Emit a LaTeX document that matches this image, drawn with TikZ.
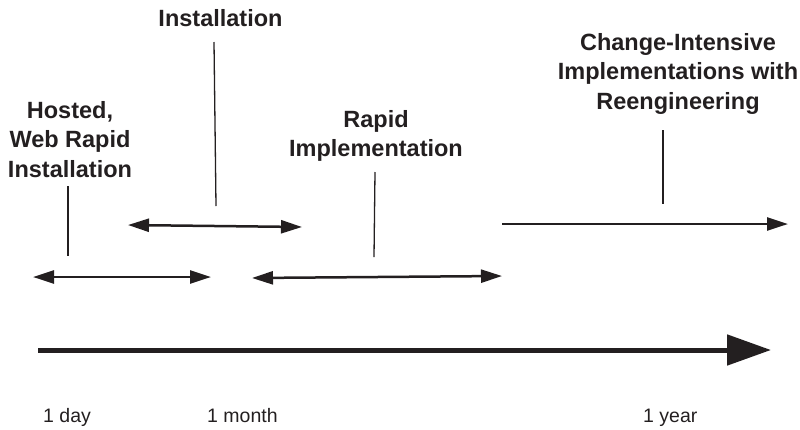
\documentclass[tikz,border=0pt]{standalone}
\usepackage{fontspec}
\setmainfont{Liberation Sans}
\usetikzlibrary{arrows.meta}
\definecolor{ink}{RGB}{35,31,32}
\begin{document}
\begin{tikzpicture}[x=1pt,y=-1pt,
  lbl/.style={font=\bfseries\fontsize{23.5}{29.5}\selectfont, align=center, anchor=north, inner sep=0pt, text=ink},
  tick/.style={font=\fontsize{19.5}{23}\selectfont, anchor=base west, inner sep=0pt, text=ink},
  span/.style={draw=ink, line width=2.5pt, {Triangle[length=21pt,width=13pt]}-{Triangle[length=21pt,width=13pt]}},
  onespan/.style={draw=ink, line width=2.5pt, -{Triangle[length=21pt,width=13pt]}},
  axis/.style={draw=ink, line width=5pt, -{Triangle[length=44pt,width=30pt]}},
  pointer/.style={draw=ink, line width=1.3pt}
]
\useasboundingbox (0,0) rectangle (800,429);

% labels
\node[lbl] (hosted) at (70,100.8) {Hosted,\\Web Rapid\\Installation};
\node[lbl] (inst) at (220.5,8.8) {Installation};
\node[lbl] (rapid) at (376,109.8) {Rapid\\Implementation};
\node[lbl] (change) at (678,32.8) {Change-Intensive\\Implementations with\\Reengineering};

% pointer lines
\coordinate (hA1) at (68,186); \coordinate (hA2) at (68,256);
\coordinate (iA1) at (214,42); \coordinate (iA2) at (216,206);
\coordinate (rA1) at (375,172); \coordinate (rA2) at (374,257);
\coordinate (cA1) at (663,130); \coordinate (cA2) at (663,204);
\draw[pointer] (hA1) -- (hA2);
\draw[pointer] (iA1) -- (iA2);
\draw[pointer] (rA1) -- (rA2);
\draw[pointer] (cA1) -- (cA2);

% spans
\coordinate (a1) at (33,277); \coordinate (a2) at (211,277);
\coordinate (b1) at (252,278); \coordinate (b2) at (502,276);
\coordinate (c1) at (128,225); \coordinate (c2) at (302,227);
\coordinate (d1) at (502,224); \coordinate (d2) at (788,224);
\draw[span] (a1) -- (a2);
\draw[span] (b1) -- (b2);
\draw[span] (c1) -- (c2);
\draw[onespan] (d1) -- (d2);

% main axis
\coordinate (m1) at (38,350); \coordinate (m2) at (771,350);
\draw[axis] (m1) -- (m2);

% tick labels
\node[tick] (day) at (43,422) {1 day};
\node[tick] (month) at (207,422) {1 month};
\node[tick] (year) at (643,422) {1 year};
\end{tikzpicture}
\end{document}
